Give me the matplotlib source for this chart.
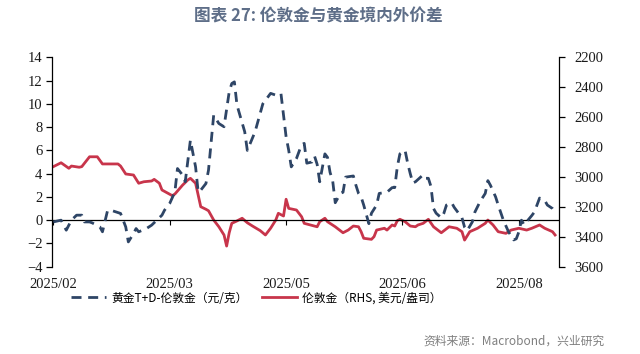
import numpy as np
import pandas as pd
import matplotlib
matplotlib.use("Agg")
import matplotlib.pyplot as plt
import matplotlib.dates as mdates

# ---- data ----
base_date = pd.Timestamp("2025-02-03")

# 黄金T+D - 伦敦金 (元/克), left axis
gap_days = [0, 3, 5, 7, 9, 11, 12, 14, 15, 18, 19, 21, 23, 26, 28, 29, 31, 32, 33, 36,
            38, 40, 42, 43, 45, 47, 48, 50, 51, 53, 55, 56, 57, 59, 60, 62, 64, 66, 68, 69,
            70, 71, 74, 75, 78, 81, 84, 86, 88, 90, 91, 92, 94, 96, 97, 98, 100, 101, 102, 103,
            105, 106, 107, 108, 109, 111, 112, 113, 116, 117, 118, 119, 120, 122, 123, 125, 126, 129, 131, 132,
            133, 134, 136, 137, 138, 139, 140, 143, 144, 145, 146, 147, 148, 150, 151, 152, 154, 155, 158, 159,
            160, 162, 163, 165, 167, 168, 169, 171, 172, 174, 176, 178, 179, 180, 181, 182, 185, 186, 187, 188,
            190, 191, 193, 194]
gap_values = [-0.15, 0.0, -0.86, 0.0, 0.43, 0.43, -0.15, -0.15, -0.23, -0.58, -1.0, 0.86, 0.8, 0.58, -0.58, -1.87, -1.15, -0.72, -1.0, -0.72,
              -0.43, 0.0, 0.43, 0.86, 1.44, 2.43, 4.44, 3.87, 3.3, 6.88, 4.58, 2.43, 2.58, 3.15, 4.3, 9.03, 8.31, 8.03, 11.03, 11.75,
              11.89, 9.9, 7.6, 6.0, 7.6, 10.0, 10.9, 10.75, 10.9, 7.16, 6.02, 4.58, 5.3, 6.5, 6.6, 4.9, 5.0, 5.5, 4.8, 3.3,
              5.7, 5.4, 4.1, 3.4, 1.5, 2.3, 2.4, 3.7, 3.8, 3.0, 2.3, 2.0, 1.3, -0.3, 0.6, 1.3, 2.3, 2.4, 2.8, 2.8,
              4.6, 5.7, 6.0, 4.9, 4.0, 3.2, 3.3, 3.9, 3.6, 3.6, 2.9, 1.0, 0.6, 0.2, 0.6, 1.3, 1.5, 1.1, 0.2, -0.6,
              -0.9, -0.15, 0.7, 1.6, 2.3, 3.4, 3.0, 2.0, 1.3, 0.0, -1.0, -1.7, -1.6, -1.0, 0.0, -0.4, 0.4, 0.7, 1.3, 1.9,
              1.7, 1.3, 1.0, 0.7]

# 伦敦金 (美元/盎司), right axis (inverted)
gold_days = [0, 3, 6, 7, 10, 11, 14, 17, 19, 25, 26, 28, 31, 33, 35, 38, 39, 41, 42, 46,
             47, 50, 52, 53, 55, 57, 59, 60, 62, 64, 66, 67, 68, 69, 71, 73, 75, 77, 80, 82,
             84, 86, 87, 89, 90, 91, 94, 96, 97, 102, 103, 105, 106, 109, 112, 114, 116, 118, 119, 120,
             123, 124, 125, 128, 129, 131, 132, 133, 134, 136, 138, 140, 141, 143, 145, 147, 150, 153, 156, 158,
             159, 161, 164, 167, 168, 170, 172, 175, 177, 180, 183, 185, 188, 190, 193, 194]
gold_values = [2931, 2905, 2942, 2927, 2935, 2931, 2865, 2865, 2913, 2913, 2927, 2980, 2987, 3042, 3032, 3027, 3016, 3042, 3087, 3125,
               3114, 3054, 3020, 3009, 3042, 3199, 3216, 3226, 3288, 3333, 3388, 3462, 3373, 3310, 3294, 3276, 3306, 3328, 3359, 3388,
               3343, 3288, 3243, 3261, 3149, 3210, 3221, 3266, 3310, 3333, 3299, 3276, 3299, 3333, 3373, 3355, 3328, 3333, 3366, 3410,
               3417, 3399, 3355, 3343, 3355, 3321, 3328, 3292, 3283, 3299, 3328, 3333, 3321, 3310, 3283, 3333, 3373, 3333, 3343, 3366,
               3422, 3366, 3343, 3310, 3288, 3321, 3366, 3377, 3355, 3343, 3355, 3343, 3321, 3343, 3366, 3388]

tick_days = [0, 45, 90, 135, 180]

gap_dates = base_date + pd.to_timedelta(gap_days, unit="D")
gold_dates = base_date + pd.to_timedelta(gold_days, unit="D")
tick_dates = base_date + pd.to_timedelta(tick_days, unit="D")

navy = "#2E4566"
red = "#C8354B"
cjk = ["Noto Sans CJK SC", "DejaVu Sans"]
serif = "Liberation Serif"

fig = plt.figure(figsize=(6.4, 3.54), dpi=100)
ax = fig.add_axes([0.0813, 0.2466, 0.7921, 0.5915])
ax2 = ax.twinx()

l1, = ax.plot(gap_dates, gap_values, color=navy, lw=2.0, dashes=(3.6, 2.4), zorder=3)
l2, = ax2.plot(gold_dates, gold_values, color=red, lw=2.0, zorder=2)
ax.set_zorder(ax2.get_zorder() + 1)
ax.patch.set_visible(False)

ax.axhline(0, color="black", lw=0.9, zorder=1)

ax.set_ylim(-4, 14)
ax.set_yticks(np.arange(-4, 15, 2))
ax2.set_ylim(3600, 2200)
ax2.set_yticks(np.arange(2200, 3601, 200))

ax.set_xlim(base_date - pd.Timedelta(days=0.5), base_date + pd.Timedelta(days=195.5))
ax.set_xticks(tick_dates)
ax.xaxis.set_major_formatter(mdates.DateFormatter("%Y/%m"))
ax.tick_params(axis="x", length=0, pad=8)

# small ticks sitting on the zero line
sec = ax.secondary_xaxis(4 / 18)
sec.set_xticks(tick_dates)
sec.tick_params(axis="x", direction="out", length=3.5, width=0.8, labelbottom=False, labeltop=False)
sec.spines["bottom"].set_visible(False)
sec.spines["top"].set_visible(False)

for a in (ax, ax2):
    a.spines["top"].set_visible(False)
    a.spines["bottom"].set_visible(False)
ax.spines["right"].set_visible(False)
ax2.spines["left"].set_visible(False)
ax.spines["left"].set_linewidth(0.9)
ax2.spines["right"].set_linewidth(0.9)

ax.tick_params(axis="y", direction="out", length=4, width=0.9, pad=3)
ax2.tick_params(axis="y", direction="out", length=4, width=0.9, pad=7)

for lab in ax.get_xticklabels() + ax.get_yticklabels() + ax2.get_yticklabels():
    lab.set_fontfamily(serif)
    lab.set_fontsize(10.5)
    lab.set_color("#1a1a1a")

fig.text(0.497, 0.952, "图表 27: 伦敦金与黄金境内外价差", ha="center", va="center",
         fontsize=12, fontweight="bold", color="#5E6E88", family=cjk)

leg = fig.legend([l1, l2], ["黄金T+D-伦敦金（元/克）", "伦敦金（RHS, 美元/盎司）"],
                 loc="center", bbox_to_anchor=(0.4, 0.158), ncol=2, frameon=False,
                 prop={"family": cjk, "size": 8.5}, handlelength=3.0, columnspacing=1.2,
                 handletextpad=0.4)

fig.text(0.945, 0.035, "资料来源：Macrobond，兴业研究", ha="right", va="center",
         fontsize=8.5, color="#7F7F7F", family=cjk)

fig.savefig("out.png", dpi=100)
